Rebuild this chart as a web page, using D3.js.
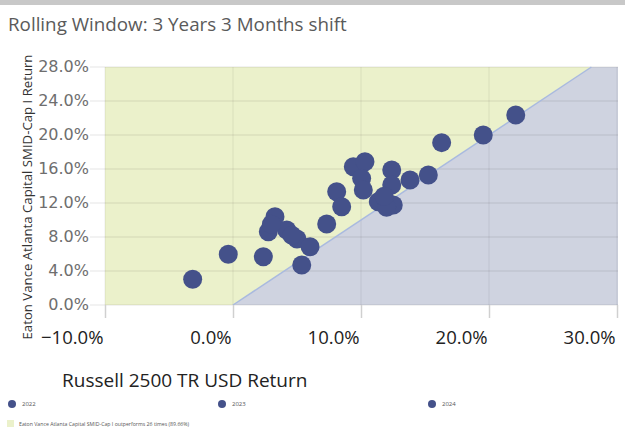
<!DOCTYPE html>
<html>
<head>
<meta charset="utf-8">
<script src="https://cdn.jsdelivr.net/npm/d3@7/dist/d3.min.js"></script>
<style>
  body { margin: 0; background: #fff; }
  svg { display: block; }
</style>
</head>
<body>
<svg id="chart" width="625" height="435"></svg>
<script>
// Rolling 3y windows, 3 month shift: benchmark (x) vs fund (y), in %
const benchReturns = [-3.15, -0.37, 2.37, 5.37, 3.28, 2.76, 4.20, 5.00, 6.02, 7.32,
                      8.10, 8.49, 9.40, 10.31, 10.05, 10.18, 11.35, 12.40, 12.40, 12.52,
                      13.83, 15.26, 16.30, 19.55, 22.09, 4.60, 3.00, 12.00, 11.80];
const fundReturns  = [3.02, 5.96, 5.68, 4.71, 10.39, 8.62, 8.82, 7.76, 6.86, 9.53,
                      13.33, 11.56, 16.27, 16.86, 14.90, 13.53, 12.15, 15.88, 14.12, 11.76,
                      14.71, 15.29, 19.10, 20.00, 22.35, 8.20, 9.50, 11.50, 12.80];
const pointYears   = ["2022", "2022", "2022", "2022", "2022", "2022", "2022", "2022", "2022", "2022",
                      "2023", "2023", "2023", "2023", "2023", "2023", "2023", "2023", "2023", "2023",
                      "2024", "2024", "2024", "2024", "2024", "2024", "2024", "2024", "2024"];
const yearLabels = ["2022", "2023", "2024"];
const xTicks = [-10, 0, 10, 20, 30];
const yTicks = [0, 4, 8, 12, 16, 20, 24, 28];
const fundName = "Eaton Vance Atlanta Capital SMID-Cap I";
const benchName = "Russell 2500 TR USD";

const svg = d3.select("#chart");
const dotColor = "#44518a";
const greenFill = "#ebf1cb";
const blueFill = "#cfd3e0";

const x = d3.scaleLinear().domain([-10, 30]).range([105, 617]);
const y = d3.scaleLinear().domain([0, 28]).range([305, 67]);

// top grey strip
svg.append("rect").attr("x", 0).attr("y", 0).attr("width", 625).attr("height", 5).attr("fill", "#c8c8c8");

// title
svg.append("text")
    .attr("x", 8).attr("y", 31)
    .attr("font-family", "Open Sans, sans-serif")
    .attr("font-size", 18.8)
    .attr("fill", "#5a5a5a")
    .text("Rolling Window: 3 Years 3 Months shift");

// plot background: fund wins above the diagonal, loses below it
svg.append("rect")
    .attr("x", x(-10)).attr("y", y(28))
    .attr("width", x(30) - x(-10) + 1).attr("height", y(0) - y(28))
    .attr("fill", greenFill);

const loseArea = [[0, 0], [28, 28], [30, 28], [30, 0]];
svg.append("path")
    .attr("d", d3.line().x(d => x(d[0]) + (d[0] === 30 ? 1 : 0)).y(d => y(d[1]))(loseArea) + "Z")
    .attr("fill", blueFill);

// grid
const grid = svg.append("g");
grid.selectAll(".hgrid").data(yTicks).enter().append("line")
    .attr("x1", 90).attr("x2", x(30) + 1)
    .attr("y1", d => y(d)).attr("y2", d => y(d))
    .attr("stroke", "#000").attr("stroke-opacity", 0.07).attr("stroke-width", 1.5);
grid.selectAll(".vgrid").data(xTicks).enter().append("line")
    .attr("x1", d => x(d)).attr("x2", d => x(d))
    .attr("y1", y(28)).attr("y2", y(0))
    .attr("stroke", "#000").attr("stroke-opacity", 0.05).attr("stroke-width", 1.5);

// diagonal (equal returns)
svg.append("line")
    .attr("x1", x(0)).attr("y1", y(0))
    .attr("x2", x(28)).attr("y2", y(28))
    .attr("stroke", "#a9badf").attr("stroke-width", 1.5);

// x axis
const xAxis = svg.append("g")
    .attr("transform", `translate(0,${y(0)})`)
    .call(d3.axisBottom(x).tickValues(xTicks).tickSize(13).tickPadding(0)
        .tickFormat(d => d3.format(".1f")(d) + "%"));
xAxis.select(".domain").remove();
xAxis.selectAll(".tick line").attr("stroke", "#d0d0d0").attr("stroke-width", 1.5);
xAxis.selectAll(".tick text")
    .attr("text-anchor", "end")
    .attr("x", -2).attr("y", 33).attr("dy", "0.32em")
    .attr("font-family", "Open Sans, sans-serif")
    .attr("font-size", 18.5)
    .attr("fill", "#222");

// y axis
const yAxis = svg.append("g")
    .attr("transform", `translate(89,0)`)
    .call(d3.axisLeft(y).tickValues(yTicks).tickSize(0).tickPadding(0)
        .tickFormat(d => d3.format(".1f")(d) + "%"));
yAxis.select(".domain").remove();
yAxis.selectAll(".tick text")
    .attr("y", -1)
    .attr("font-family", "DejaVu Sans, sans-serif")
    .attr("font-size", 16)
    .attr("fill", "#6e6e6e");

// axis titles
svg.append("text")
    .attr("transform", "translate(32,197) rotate(-90)")
    .attr("text-anchor", "middle")
    .attr("font-family", "Open Sans, sans-serif")
    .attr("font-size", 13.2)
    .attr("fill", "#333")
    .text(fundName + " Return");

svg.append("text")
    .attr("x", 62).attr("y", 387)
    .attr("font-family", "Open Sans, sans-serif")
    .attr("font-size", 19)
    .attr("fill", "#222")
    .text(benchName + " Return");

// points
svg.append("g").selectAll("circle")
    .data(benchReturns.map((b, i) => ({ b: b, f: fundReturns[i], year: pointYears[i] })))
    .enter().append("circle")
    .attr("cx", d => x(d.b))
    .attr("cy", d => y(d.f))
    .attr("r", 9.5)
    .attr("fill", dotColor);

// legend
const legendX = d3.scalePoint().domain(yearLabels).range([12, 432]);
const legend = svg.append("g");
legend.selectAll("circle").data(yearLabels).enter().append("circle")
    .attr("cx", d => legendX(d)).attr("cy", 404).attr("r", 4)
    .attr("fill", dotColor);
legend.selectAll("text").data(yearLabels).enter().append("text")
    .attr("x", d => legendX(d) + 10).attr("y", 406)
    .attr("font-family", "Open Sans, sans-serif")
    .attr("font-size", 6)
    .attr("fill", "#555")
    .text(d => d);

const wins = benchReturns.filter((b, i) => fundReturns[i] > b).length;
legend.append("rect")
    .attr("x", 7).attr("y", 420).attr("width", 7).attr("height", 7)
    .attr("fill", greenFill);
legend.append("text")
    .attr("x", 19).attr("y", 426)
    .attr("font-family", "Open Sans, sans-serif")
    .attr("font-size", 5.2)
    .attr("fill", "#555")
    .text(`${fundName} outperforms ${wins} times (${d3.format(".2f")(wins / benchReturns.length * 100)}%)`);
</script>
</body>
</html>
